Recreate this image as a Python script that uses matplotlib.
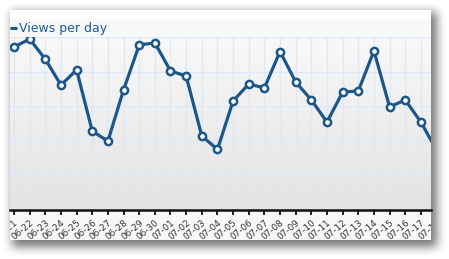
import numpy as np
import matplotlib
matplotlib.use("Agg")
import matplotlib.pyplot as plt
from matplotlib.transforms import Bbox, TransformedBbox

# ---------------- data ----------------
dates = ["06-21", "06-22", "06-23", "06-24", "06-25", "06-26", "06-27", "06-28",
         "06-29", "06-30", "07-01", "07-02", "07-03", "07-04", "07-05", "07-06",
         "07-07", "07-08", "07-09", "07-10", "07-11", "07-12", "07-13", "07-14",
         "07-15", "07-16", "07-17", "07-18"]
views = [471, 494, 436, 361, 405, 228, 199, 347, 477, 483, 402, 387, 214, 175,
         315, 364, 353, 458, 370, 318, 254, 341, 344, 460, 298, 318, 254, 173]
series_name = "Views per day"
y_grid = [100, 200, 300, 400, 500]

# ---------------- layout (pixels) ----------------
W, H = 449, 259
panel = (10, 10, 431, 240)        # left, top, right, bottom
plot_top, plot_bottom = 37, 210
first_x, step = 14.0, 15.65

LINE = "#1d5689"
GRID = "#dde8f8"
ROT = 40
LABEL_FS = 6.4

fig = plt.figure(figsize=(W / 100, H / 100), dpi=100)
fig.patch.set_facecolor("white")

# background axes in pixel space
bg = fig.add_axes([0, 0, 1, 1])
bg.set_xlim(0, W)
bg.set_ylim(H, 0)
bg.axis("off")

# soft drop shadow
yy, xx = np.mgrid[0:H, 0:W]
mask = ((xx >= panel[0] + 2) & (xx <= panel[2] + 5) &
        (yy >= panel[1] + 2) & (yy <= panel[3] + 6)).astype(float)
def blur(a, r, n=3):
    k = np.ones(2 * r + 1) / (2 * r + 1)
    for _ in range(n):
        a = np.apply_along_axis(lambda m: np.convolve(m, k, mode="same"), 0, a)
        a = np.apply_along_axis(lambda m: np.convolve(m, k, mode="same"), 1, a)
    return a
sh = blur(mask, 4)
rgba = np.zeros((H, W, 4))
rgba[..., :3] = 0.25
rgba[..., 3] = sh * 0.7
bg.imshow(rgba, extent=(0, W, H, 0), interpolation="bilinear", zorder=0)

# panel
bg.add_patch(plt.Rectangle((panel[0], panel[1]), panel[2] - panel[0],
                           panel[3] - panel[1], facecolor="#f8f8f8",
                           edgecolor="none", zorder=1))
bg.add_patch(plt.Rectangle((panel[0], panel[1]), panel[2] - panel[0], 9,
                           facecolor="white", edgecolor="none", zorder=2))

# legend
bg.plot([panel[0], panel[0] + 7], [28, 28], color=LINE, lw=2.2,
        solid_capstyle="butt", zorder=3)
bg.text(19, 28.5, series_name, color="#1f5c91", fontsize=9,
        va="center", ha="left", zorder=3)

# main axes
ax = fig.add_axes([panel[0] / W, 1 - plot_bottom / H,
                   (panel[2] - panel[0]) / W, (plot_bottom - plot_top) / H])
ax.set_facecolor("none")
x = np.arange(len(dates))
ax.set_xlim((panel[0] - first_x) / step, (panel[2] - first_x) / step)
ax.set_ylim(0, 500)

# vertical gradient background
grad = np.linspace(0, 1, 256).reshape(-1, 1)
top_c = np.array([0.975, 0.975, 0.975])
bot_c = np.array([0.89, 0.89, 0.89])
img = (top_c + (bot_c - top_c) * grad).reshape(256, 1, 3)
ax.imshow(img, extent=(ax.get_xlim()[0], ax.get_xlim()[1], 0, 500),
          aspect="auto", origin="upper", zorder=0)

for v in y_grid:
    ax.axhline(v, color=GRID, lw=1, zorder=1)
for xi in x:
    ax.axvline(xi, color=GRID, lw=1, zorder=1)

ax.plot(x, views, color=LINE, lw=2.3, marker="o", markersize=5.2,
        markerfacecolor="white", markeredgecolor=LINE, markeredgewidth=1.8,
        zorder=3)

for s in ["top", "left", "right"]:
    ax.spines[s].set_visible(False)
ax.spines["bottom"].set_linewidth(1.8)
ax.spines["bottom"].set_color("#111111")
ax.set_yticks([])
ax.tick_params(axis="x", direction="out", length=3.5, width=1.3,
               color="#111111", pad=2, labelsize=LABEL_FS, labelcolor="#333333")
ax.set_xticks(x[:-1])
ax.set_xticklabels(dates[:-1], rotation=ROT, ha="right", va="top",
                   rotation_mode="anchor")

clip = TransformedBbox(Bbox([[panel[0] / W, 0], [panel[2] / W, 1]]),
                       fig.transFigure)
for lab in ax.get_xticklabels():
    lab.set_clip_box(clip)
    lab.set_clip_on(True)
extra = ax.annotate(dates[-1], xy=(x[-1], 0), xycoords=("data", "axes fraction"),
                    xytext=(0, -5.5), textcoords="offset points",
                    rotation=ROT, ha="right", va="top", rotation_mode="anchor",
                    fontsize=LABEL_FS, color="#333333", annotation_clip=False)
extra.set_clip_box(clip)
extra.set_clip_on(True)

fig.savefig("out.png", dpi=100)
